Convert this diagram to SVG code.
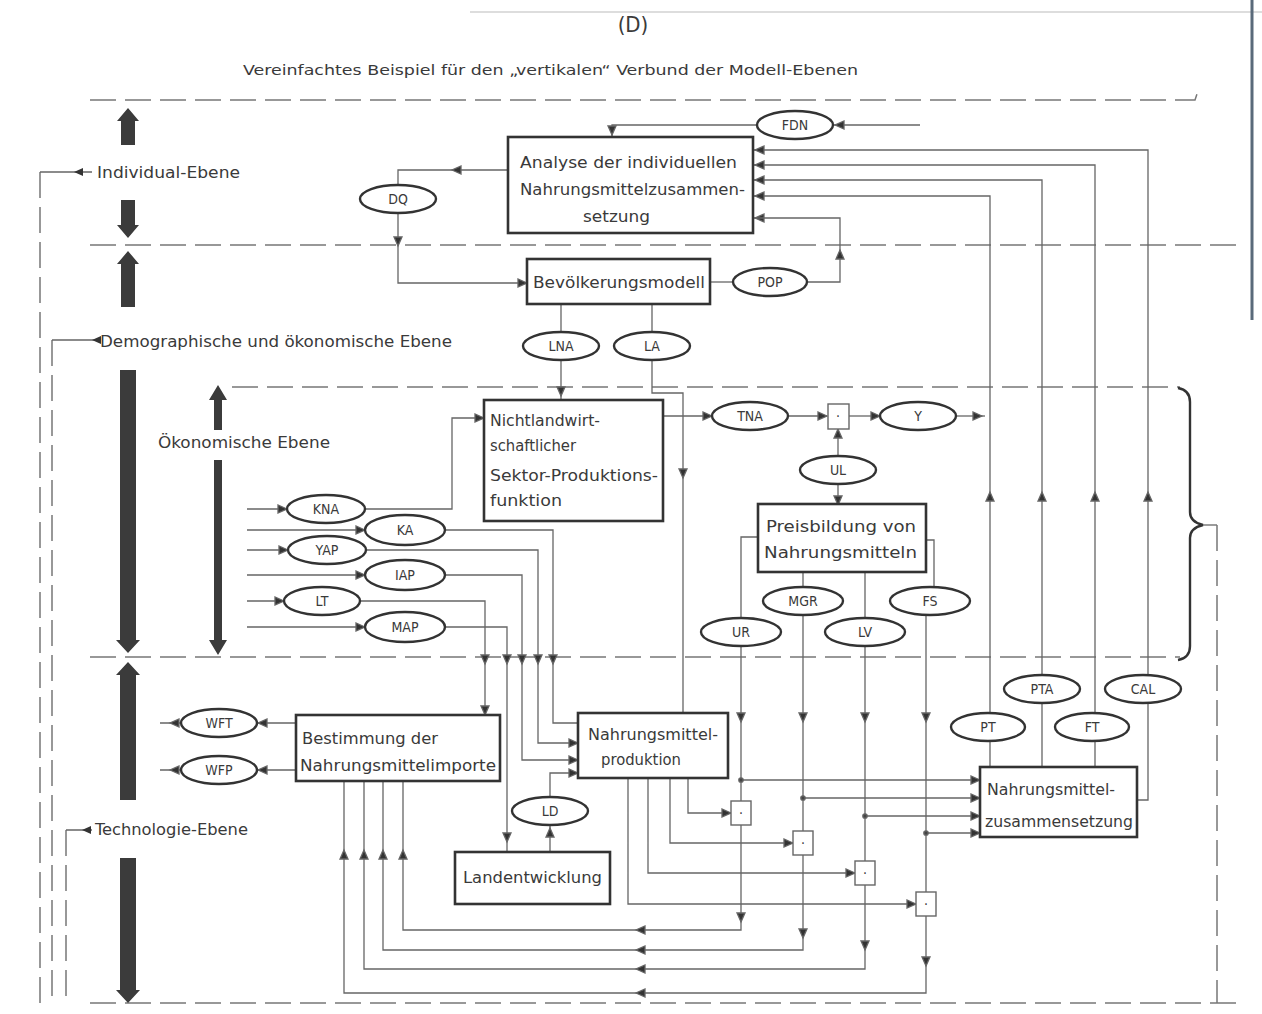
<svg xmlns="http://www.w3.org/2000/svg" xmlns:xlink="http://www.w3.org/1999/xlink" width="1262" height="1014" viewBox="0 0 1262 1014">
<style>
text{font-family:'DejaVu Sans Condensed','Liberation Sans Narrow','Liberation Sans',sans-serif;fill:#3a3a3a}
.t{font-size:15px}
.lv{font-size:15px}
.el{font-size:14px;text-anchor:middle}
.box{fill:#fff;stroke:#333;stroke-width:2.6}
.ell{fill:#fff;stroke:#333;stroke-width:2.4}
.sq{fill:#fff;stroke:#666;stroke-width:1.4}
.ln{fill:none;stroke:#666;stroke-width:1.3}
.dash{fill:none;stroke:#777;stroke-width:1.5;stroke-dasharray:26 9}
.bar{fill:#3b3b3b}
</style>
<defs>
<path id="ah" d="M0,0 L-9,-4 L-9,4 Z" fill="#333"/>
<circle id="dot" r="2.2" fill="#444"/>
</defs>
<rect width="1262" height="1014" fill="#fff"/>
<line x1="470" y1="12" x2="1262" y2="12" stroke="#ddd" stroke-width="2"/>
<line x1="1252" y1="0" x2="1252" y2="320" stroke="#5a6a7a" stroke-width="3"/>

<g id="title">
<text x="633" y="32" font-size="22" text-anchor="middle">(D)</text>
<text x="243" y="75" font-size="14" textLength="615" lengthAdjust="spacingAndGlyphs">Vereinfachtes Beispiel für den „vertikalen“ Verbund der Modell-Ebenen</text>
</g>

<g id="levels">
<path class="dash" d="M90,100 H1195 L1197,94"/>
<path class="dash" d="M90,245 H1240"/>
<path class="dash" d="M232,387 H1180"/>
<path class="dash" d="M90,657 H1180"/>
<path class="dash" d="M90,1003 H1240"/>
<path class="dash" d="M40,172 V1003 M52,340 V1003 M66,830 V1003" stroke-dasharray="14 6"/>
<path class="ln" d="M40,172 H92 M52,340 H96 M66,830 H92"/>
<use xlink:href="#ah" transform="translate(74,172) rotate(180)"/>
<use xlink:href="#ah" transform="translate(92,340) rotate(180)"/>
<use xlink:href="#ah" transform="translate(82,830) rotate(180)"/>
<text class="lv" x="97" y="178" textLength="143" lengthAdjust="spacingAndGlyphs">Individual-Ebene</text>
<text class="lv" x="100" y="347" textLength="352" lengthAdjust="spacingAndGlyphs">Demographische und ökonomische Ebene</text>
<text class="lv" x="158" y="448" textLength="172" lengthAdjust="spacingAndGlyphs">Ökonomische Ebene</text>
<text class="lv" x="95" y="835" textLength="153" lengthAdjust="spacingAndGlyphs">Technologie-Ebene</text>
<path class="bar" d="M128,108 L139,121 L135,121 L135,145 L121,145 L121,121 L117,121 Z"/>
<path class="bar" d="M121,200 H135 V225 H139 L128,238 L117,225 H121 Z"/>
<path class="bar" d="M128,251 L139,264 L135,264 L135,307 L121,307 L121,264 L117,264 Z"/>
<path class="bar" d="M120,370 H136 V640 H140 L128,653 L116,640 H120 Z"/>
<path class="bar" d="M128,662 L140,675 L136,675 L136,800 L120,800 L120,675 L116,675 Z"/>
<path class="bar" d="M120,858 H136 V990 H140 L128,1003 L116,990 H120 Z"/>
<path class="bar" d="M218,385 L227,400 L222,400 L222,430 L214,430 L214,400 L209,400 Z"/>
<path class="bar" d="M214,460 H222 V640 H227 L218,655 L209,640 H214 Z"/>
<path fill="none" stroke="#333" stroke-width="2.4" d="M1178,388 Q1190,390 1190,402 V512 Q1190,522 1203,525 Q1190,528 1190,538 V646 Q1190,658 1178,660"/>
<path class="ln" d="M1203,525 H1217"/>
<path class="dash" d="M1217,525 V1003" stroke-dasharray="14 6"/>
</g>

<g id="connectors" class="ln">
<path d="M612,137 V125 H757"/>
<use xlink:href="#ah" transform="translate(612,135) rotate(90)"/>
<path d="M833,125 H920"/>
<use xlink:href="#ah" transform="translate(835,125) rotate(180)"/>
<path d="M753,150 H1148 V675"/>
<path d="M753,165 H1095 V713"/>
<path d="M753,180 H1042 V675"/>
<path d="M753,196 H990 V713"/>
<use xlink:href="#ah" transform="translate(755,150) rotate(180)"/>
<use xlink:href="#ah" transform="translate(755,165) rotate(180)"/>
<use xlink:href="#ah" transform="translate(755,180) rotate(180)"/>
<use xlink:href="#ah" transform="translate(755,196) rotate(180)"/>
<use xlink:href="#ah" transform="translate(755,218) rotate(180)"/>
<use xlink:href="#ah" transform="translate(990,492) rotate(270)"/>
<use xlink:href="#ah" transform="translate(1042,492) rotate(270)"/>
<use xlink:href="#ah" transform="translate(1095,492) rotate(270)"/>
<use xlink:href="#ah" transform="translate(1148,492) rotate(270)"/>
<path d="M753,218 H840 V282 H807"/>
<use xlink:href="#ah" transform="translate(840,250) rotate(270)"/>
<path d="M710,282 H733"/>
<path d="M508,170 H398 V185"/>
<use xlink:href="#ah" transform="translate(452,170) rotate(180)"/>
<path d="M398,213 V283 H527"/>
<use xlink:href="#ah" transform="translate(398,246) rotate(90)"/>
<use xlink:href="#ah" transform="translate(527,283)"/>
<path d="M561,304 V332 M652,304 V332"/>
<path d="M561,360 V400"/>
<use xlink:href="#ah" transform="translate(561,396) rotate(90)"/>
<path d="M652,360 V393 H683 V713"/>
<use xlink:href="#ah" transform="translate(683,478) rotate(90)"/>
<path d="M365,509 H452 V418 H484"/>
<use xlink:href="#ah" transform="translate(484,418)"/>
<path d="M663,416 H712"/>
<use xlink:href="#ah" transform="translate(712,416)"/>
<path d="M788,416 H827"/>
<use xlink:href="#ah" transform="translate(827,416)"/>
<path d="M838,456 V428"/>
<use xlink:href="#ah" transform="translate(838,429) rotate(270)"/>
<path d="M849,416 H880"/>
<use xlink:href="#ah" transform="translate(880,416)"/>
<path d="M956,416 H985"/>
<use xlink:href="#ah" transform="translate(982,416)"/>
<path d="M838,484 V505"/>
<use xlink:href="#ah" transform="translate(838,505) rotate(90)"/>
<path d="M758,537 H741 V618"/>
<path d="M926,540 H934 V586"/>
<path d="M803,572 V586 M865,572 V618"/>
<path d="M741,646 V930 H403 V781"/>
<path d="M803,615 V950 H383 V781"/>
<path d="M865,646 V969 H364 V781"/>
<path d="M926,615 V993 H344 V781"/>
<use xlink:href="#ah" transform="translate(741,722) rotate(90)"/>
<use xlink:href="#ah" transform="translate(803,722) rotate(90)"/>
<use xlink:href="#ah" transform="translate(865,722) rotate(90)"/>
<use xlink:href="#ah" transform="translate(926,722) rotate(90)"/>
<use xlink:href="#ah" transform="translate(741,922) rotate(90)"/>
<use xlink:href="#ah" transform="translate(803,938) rotate(90)"/>
<use xlink:href="#ah" transform="translate(865,950) rotate(90)"/>
<use xlink:href="#ah" transform="translate(926,966) rotate(90)"/>
<use xlink:href="#ah" transform="translate(636,930) rotate(180)"/>
<use xlink:href="#ah" transform="translate(636,950) rotate(180)"/>
<use xlink:href="#ah" transform="translate(636,969) rotate(180)"/>
<use xlink:href="#ah" transform="translate(636,993) rotate(180)"/>
<use xlink:href="#ah" transform="translate(344,850) rotate(270)"/>
<use xlink:href="#ah" transform="translate(364,850) rotate(270)"/>
<use xlink:href="#ah" transform="translate(383,850) rotate(270)"/>
<use xlink:href="#ah" transform="translate(403,850) rotate(270)"/>
<path d="M741,780 H980 M803,798 H980 M865,816 H980 M926,833 H980"/>
<use xlink:href="#ah" transform="translate(980,780)"/>
<use xlink:href="#ah" transform="translate(980,798)"/>
<use xlink:href="#ah" transform="translate(980,816)"/>
<use xlink:href="#ah" transform="translate(980,833)"/>
<use xlink:href="#dot" x="741" y="780"/>
<use xlink:href="#dot" x="803" y="798"/>
<use xlink:href="#dot" x="865" y="816"/>
<use xlink:href="#dot" x="926" y="833"/>
<path d="M688,778 V813 H731 M670,778 V843 H793 M648,778 V873 H855 M628,778 V904 H916"/>
<use xlink:href="#ah" transform="translate(731,813)"/>
<use xlink:href="#ah" transform="translate(793,843)"/>
<use xlink:href="#ah" transform="translate(855,873)"/>
<use xlink:href="#ah" transform="translate(916,904)"/>
<path d="M990,767 V741 M1095,767 V741 M1042,767 V703 M1137,800 H1148 V703"/>
<path d="M296,723 H257 M181,723 H160 M296,770 H257 M181,770 H160"/>
<use xlink:href="#ah" transform="translate(258,723) rotate(180)"/>
<use xlink:href="#ah" transform="translate(170,723) rotate(180)"/>
<use xlink:href="#ah" transform="translate(258,770) rotate(180)"/>
<use xlink:href="#ah" transform="translate(170,770) rotate(180)"/>
<path d="M247,509 H287 M247,530 H365 M247,550 H288 M247,575 H365 M247,601 H284 M247,627 H365"/>
<use xlink:href="#ah" transform="translate(287,509)"/>
<use xlink:href="#ah" transform="translate(365,530)"/>
<use xlink:href="#ah" transform="translate(288,550)"/>
<use xlink:href="#ah" transform="translate(365,575)"/>
<use xlink:href="#ah" transform="translate(284,601)"/>
<use xlink:href="#ah" transform="translate(365,627)"/>
<path d="M360,601 H485 V715"/>
<use xlink:href="#ah" transform="translate(485,664) rotate(90)"/>
<use xlink:href="#ah" transform="translate(485,715) rotate(90)"/>
<path d="M445,530 H553 V723 H578"/>
<path d="M366,550 H538 V743 H578"/>
<path d="M445,575 H522 V760 H578"/>
<path d="M445,627 H507 V852"/>
<use xlink:href="#ah" transform="translate(507,664) rotate(90)"/>
<use xlink:href="#ah" transform="translate(522,664) rotate(90)"/>
<use xlink:href="#ah" transform="translate(538,664) rotate(90)"/>
<use xlink:href="#ah" transform="translate(553,664) rotate(90)"/>
<use xlink:href="#ah" transform="translate(578,743)"/>
<use xlink:href="#ah" transform="translate(578,760)"/>
<use xlink:href="#ah" transform="translate(507,842) rotate(90)"/>
<path d="M550,852 V825 M550,797 V773 H578"/>
<use xlink:href="#ah" transform="translate(550,828) rotate(270)"/>
<use xlink:href="#ah" transform="translate(578,773)"/>
</g>

<g id="n-analyse"><rect class="box" x="508" y="137" width="245" height="96"/>
<text class="t" x="520" y="168" textLength="217" lengthAdjust="spacingAndGlyphs">Analyse der individuellen</text>
<text class="t" x="520" y="195" textLength="225" lengthAdjust="spacingAndGlyphs">Nahrungsmittelzusammen-</text>
<text class="t" x="583" y="222" textLength="67" lengthAdjust="spacingAndGlyphs">setzung</text></g>
<g id="n-bev"><rect class="box" x="527" y="259" width="183" height="45"/>
<text class="t" x="533" y="288" textLength="172" lengthAdjust="spacingAndGlyphs">Bevölkerungsmodell</text></g>
<g id="n-nicht"><rect class="box" x="484" y="400" width="179" height="121"/>
<text class="t" x="490" y="426" textLength="110" lengthAdjust="spacingAndGlyphs">Nichtlandwirt-</text>
<text class="t" x="490" y="451" textLength="86" lengthAdjust="spacingAndGlyphs">schaftlicher</text>
<text class="t" x="490" y="481" textLength="168" lengthAdjust="spacingAndGlyphs">Sektor-Produktions-</text>
<text class="t" x="490" y="506" textLength="72" lengthAdjust="spacingAndGlyphs">funktion</text></g>
<g id="n-preis"><rect class="box" x="758" y="504" width="168" height="68"/>
<text class="t" x="766" y="532" textLength="150" lengthAdjust="spacingAndGlyphs">Preisbildung von</text>
<text class="t" x="764" y="558" textLength="153" lengthAdjust="spacingAndGlyphs">Nahrungsmitteln</text></g>
<g id="n-import"><rect class="box" x="296" y="715" width="204" height="66"/>
<text class="t" x="302" y="744" textLength="136" lengthAdjust="spacingAndGlyphs">Bestimmung der</text>
<text class="t" x="300" y="771" textLength="196" lengthAdjust="spacingAndGlyphs">Nahrungsmittelimporte</text></g>
<g id="n-prod"><rect class="box" x="578" y="713" width="150" height="65"/>
<text class="t" x="588" y="740" textLength="130" lengthAdjust="spacingAndGlyphs">Nahrungsmittel-</text>
<text class="t" x="601" y="765" textLength="80" lengthAdjust="spacingAndGlyphs">produktion</text></g>
<g id="n-land"><rect class="box" x="455" y="852" width="155" height="52"/>
<text class="t" x="463" y="883" textLength="139" lengthAdjust="spacingAndGlyphs">Landentwicklung</text></g>
<g id="n-zus"><rect class="box" x="980" y="767" width="157" height="70"/>
<text class="t" x="987" y="795" textLength="128" lengthAdjust="spacingAndGlyphs">Nahrungsmittel-</text>
<text class="t" x="985" y="827" textLength="148" lengthAdjust="spacingAndGlyphs">zusammensetzung</text></g>

<g id="operators">
<rect class="sq" x="828" y="404" width="21" height="25"/><text class="el" x="838" y="421">·</text>
<rect class="sq" x="731" y="801" width="20" height="24"/><text class="el" x="741" y="818">·</text>
<rect class="sq" x="793" y="831" width="20" height="24"/><text class="el" x="803" y="848">·</text>
<rect class="sq" x="855" y="861" width="20" height="24"/><text class="el" x="865" y="878">·</text>
<rect class="sq" x="916" y="892" width="20" height="24"/><text class="el" x="926" y="909">·</text>
</g>

<g id="n-fdn"><ellipse class="ell" cx="795" cy="125" rx="38" ry="14"/><text class="el" x="795" y="130">FDN</text></g>
<g id="n-dq"><ellipse class="ell" cx="398" cy="199" rx="38" ry="14"/><text class="el" x="398" y="204">DQ</text></g>
<g id="n-pop"><ellipse class="ell" cx="770" cy="282" rx="37" ry="14"/><text class="el" x="770" y="287">POP</text></g>
<g id="n-lna"><ellipse class="ell" cx="561" cy="346" rx="38" ry="14"/><text class="el" x="561" y="351">LNA</text></g>
<g id="n-la"><ellipse class="ell" cx="652" cy="346" rx="38" ry="14"/><text class="el" x="652" y="351">LA</text></g>
<g id="n-tna"><ellipse class="ell" cx="750" cy="416" rx="38" ry="14"/><text class="el" x="750" y="421">TNA</text></g>
<g id="n-y"><ellipse class="ell" cx="918" cy="416" rx="38" ry="14"/><text class="el" x="918" y="421">Y</text></g>
<g id="n-ul"><ellipse class="ell" cx="838" cy="470" rx="38" ry="14"/><text class="el" x="838" y="475">UL</text></g>
<g id="n-kna"><ellipse class="ell" cx="326" cy="509" rx="39" ry="14"/><text class="el" x="326" y="514">KNA</text></g>
<g id="n-ka"><ellipse class="ell" cx="405" cy="530" rx="40" ry="15"/><text class="el" x="405" y="535">KA</text></g>
<g id="n-yap"><ellipse class="ell" cx="327" cy="550" rx="39" ry="14"/><text class="el" x="327" y="555">YAP</text></g>
<g id="n-iap"><ellipse class="ell" cx="405" cy="575" rx="40" ry="15"/><text class="el" x="405" y="580">IAP</text></g>
<g id="n-lt"><ellipse class="ell" cx="322" cy="601" rx="38" ry="14"/><text class="el" x="322" y="606">LT</text></g>
<g id="n-map"><ellipse class="ell" cx="405" cy="627" rx="40" ry="15"/><text class="el" x="405" y="632">MAP</text></g>
<g id="n-ur"><ellipse class="ell" cx="741" cy="632" rx="40" ry="14"/><text class="el" x="741" y="637">UR</text></g>
<g id="n-mgr"><ellipse class="ell" cx="803" cy="601" rx="40" ry="14"/><text class="el" x="803" y="606">MGR</text></g>
<g id="n-lv"><ellipse class="ell" cx="865" cy="632" rx="40" ry="14"/><text class="el" x="865" y="637">LV</text></g>
<g id="n-fs"><ellipse class="ell" cx="930" cy="601" rx="40" ry="14"/><text class="el" x="930" y="606">FS</text></g>
<g id="n-pta"><ellipse class="ell" cx="1042" cy="689" rx="38" ry="14"/><text class="el" x="1042" y="694">PTA</text></g>
<g id="n-cal"><ellipse class="ell" cx="1143" cy="689" rx="38" ry="14"/><text class="el" x="1143" y="694">CAL</text></g>
<g id="n-pt"><ellipse class="ell" cx="988" cy="727" rx="37" ry="14"/><text class="el" x="988" y="732">PT</text></g>
<g id="n-ft"><ellipse class="ell" cx="1092" cy="727" rx="37" ry="14"/><text class="el" x="1092" y="732">FT</text></g>
<g id="n-wft"><ellipse class="ell" cx="219" cy="723" rx="38" ry="14"/><text class="el" x="219" y="728">WFT</text></g>
<g id="n-wfp"><ellipse class="ell" cx="219" cy="770" rx="38" ry="14"/><text class="el" x="219" y="775">WFP</text></g>
<g id="n-ld"><ellipse class="ell" cx="550" cy="811" rx="38" ry="14"/><text class="el" x="550" y="816">LD</text></g>
</svg>
